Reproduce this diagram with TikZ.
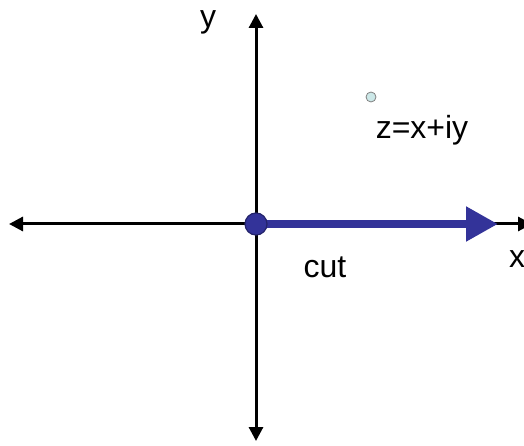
\documentclass[tikz,border=0pt]{standalone}
\usepackage{fontspec}
\setmainfont{Liberation Sans}
\usetikzlibrary{arrows.meta}
\definecolor{cutblue}{RGB}{51,51,153}
\definecolor{ptfill}{RGB}{204,232,232}

\begin{document}
\begin{tikzpicture}[x=1pt,y=-1pt,>=Triangle,
  axis/.style={line width=3pt,-{Triangle[length=14pt,width=14pt]}},
  lbl/.style={font=\fontsize{32}{36}\selectfont,inner sep=0pt}]
            \useasboundingbox (0,0) rectangle (524,446);
            \clip (0,0) rectangle (524,446);
            \coordinate (O) at (256,224);
            \coordinate (top) at (256,14);
            \coordinate (bot) at (256,441);
            \coordinate (left) at (9,224);
            \coordinate (right) at (532,224);
            \coordinate (cutend) at (498,224);
            \draw [axis] (O) -- (top);
            \draw [axis] (O) -- (bot);
            \draw [axis] (O) -- (left);
            \draw [axis] (O) -- (right);
            \draw [cutblue,line width=8pt,-{Triangle[length=32pt,width=33pt]}] (O) -- (cutend);
            \node [circle,draw=cutblue!70!black,line width=1.2pt,fill=cutblue,minimum size=22pt,inner sep=0pt] (origin) at (O) {};
            \node [circle,draw=gray,line width=0.8pt,fill=ptfill,minimum size=10pt,inner sep=0pt] (z) at (371,97) {};
            \node [lbl] (zlabel) at (422,130) {z=x+iy};
            \node [lbl] (ylabel) at (208,22) {y};
            \node [lbl] (xlabel) at (517,259) {x};
            \node [lbl] (cutlabel) at (325,267) {cut};
        \end{tikzpicture}
\end{document}
